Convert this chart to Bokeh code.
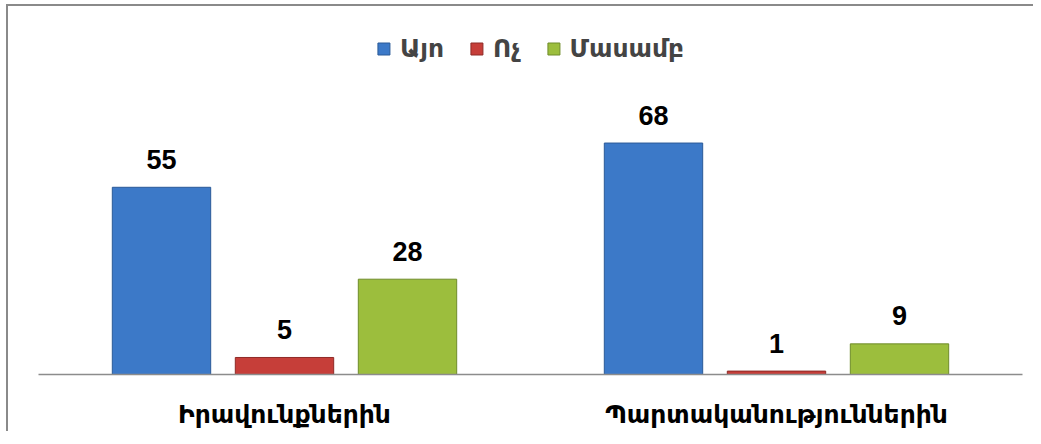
from bokeh.plotting import figure
from bokeh.models import ColumnDataSource, Legend, LegendItem, FactorRange
from bokeh.transform import dodge
from bokeh.core.properties import value
from bokeh.embed import file_html
from bokeh.resources import INLINE

categories = ["Իրավունքներին", "Պարտականություններին"]
series = ["Այո", "Ոչ", "Մասամբ"]
yes_vals = [55, 68]
no_vals = [5, 1]
partly_vals = [28, 9]

colors = ["#3C79C8", "#C63E39", "#9CBE3D"]
edges = ["#2B5A98", "#8E2B27", "#6F8C2A"]

source = ColumnDataSource(dict(
    cat=categories,
    yes=yes_vals, no=no_vals, partly=partly_vals,
    yes_lbl=[str(v) for v in yes_vals],
    no_lbl=[str(v) for v in no_vals],
    partly_lbl=[str(v) for v in partly_vals],
))

p = figure(x_range=FactorRange(*categories), y_range=(0, 104),
           frame_width=984, frame_height=354, output_backend="svg", toolbar_location=None,
           min_border_left=30, min_border_right=11, min_border_top=14, min_border_bottom=54)

offsets = [-0.25, 0.0, 0.25]
cols = ["yes", "no", "partly"]
renderers = []
for off, col, c, e in zip(offsets, cols, colors, edges):
    r = p.vbar(x=dodge("cat", off, range=p.x_range), top=col, width=0.2, source=source,
               fill_color=c, line_color=e, line_width=1)
    renderers.append(r)
    p.text(x=dodge("cat", off, range=p.x_range), y=col, text=col + "_lbl", source=source,
           text_align="center", text_baseline="alphabetic", y_offset=-28,
           text_font=value("Liberation Sans"), text_font_style="bold",
           text_font_size="27px", text_color="#000000")

legend = Legend(items=[LegendItem(label=s, renderers=[r]) for s, r in zip(series, renderers)],
                orientation="horizontal", location="top_center")
legend.margin = 14
legend.padding = 0
legend.spacing = 25
legend.label_standoff = 9
legend.glyph_width = 15
legend.glyph_height = 15
legend.label_text_font = "DejaVu Sans"
legend.label_text_font_style = "bold"
legend.label_text_font_size = "25px"
legend.border_line_color = None
legend.background_fill_alpha = 0
p.add_layout(legend)

p.xaxis.major_tick_line_color = None
p.xaxis.minor_tick_line_color = None
p.xaxis.axis_line_color = "#8c8c8c"
p.xaxis.axis_line_width = 1.5
p.xaxis.major_label_text_font = "DejaVu Sans"
p.xaxis.major_label_text_font_style = "bold"
p.xaxis.major_label_text_font_size = "25px"
p.xaxis.major_label_text_color = "#000000"
p.xaxis.major_label_standoff = 19
p.yaxis.visible = False
p.grid.visible = False
p.outline_line_color = None
p.background_fill_color = "white"
p.border_fill_color = "white"
p.styles = {"border-top": "2px solid #8a8a8a", "border-left": "2px solid #8a8a8a",
            "margin-top": "4px", "margin-left": "6px"}

open("out.html", "w").write(file_html(p, INLINE))
